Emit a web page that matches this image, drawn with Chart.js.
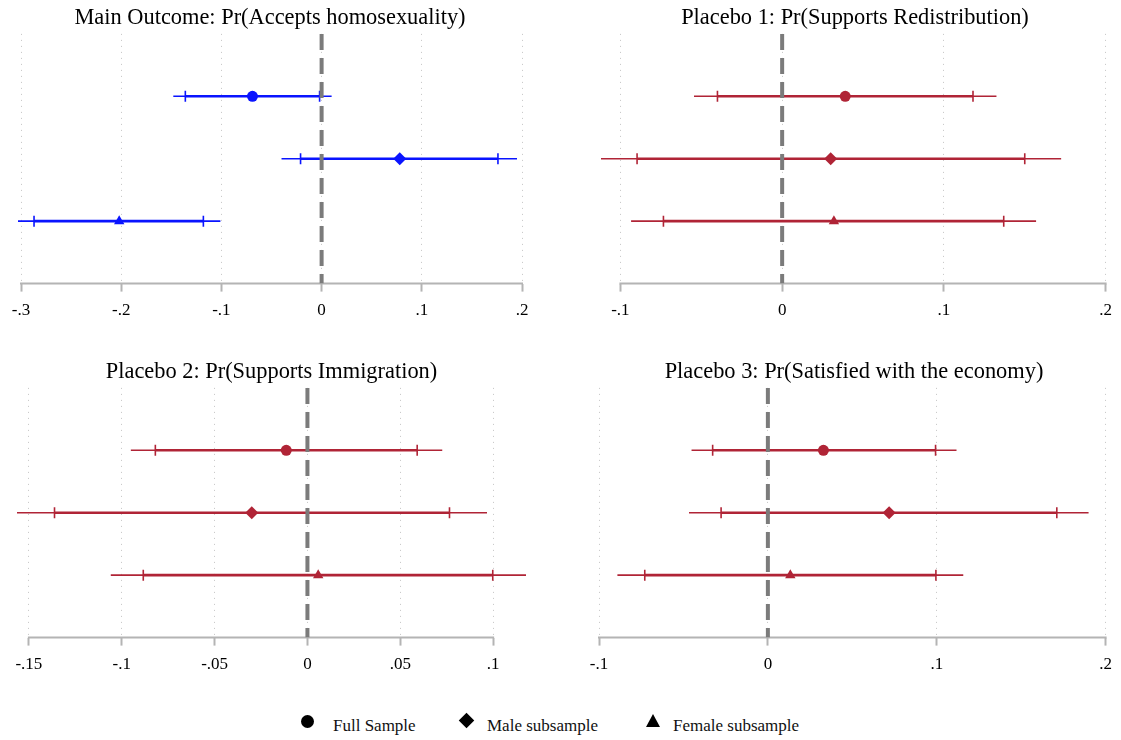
<!DOCTYPE html>
<html>
<head>
<meta charset="utf-8">
<script src="https://cdn.jsdelivr.net/npm/chart.js@4.4.1/dist/chart.umd.min.js"></script>
<style>
	html, body { margin: 0; padding: 0; background: #fff; }
	body { width: 1121px; height: 740px; position: relative; overflow: hidden; font-family: 'Liberation Serif', 'DejaVu Serif', serif; }
	.panel { position: absolute; width: 560px; height: 330px; }
	.legend-item { position: absolute; top: 712px; height: 24px; }
	.legend-text { position: absolute; top: 4px; font-size: 17px; white-space: nowrap; color: #111; }
	.mk { position: absolute; background: #000; }
</style>
</head>
<body>
<div class="panel" style="left:0;top:0"><canvas id="p0"></canvas></div>
<div class="panel" style="left:560px;top:0;width:561px"><canvas id="p1"></canvas></div>
<div class="panel" style="left:0;top:354px"><canvas id="p2"></canvas></div>
<div class="panel" style="left:560px;top:354px;width:561px"><canvas id="p3"></canvas></div>
<div id="legend"></div>
<script>
// rows, top to bottom
const rowLabels = ['Full Sample', 'Male subsample', 'Female subsample'];

// Main outcome: Pr(Accepts homosexuality)
const mainEst = [-0.069, 0.078, -0.202];
const mainLo95 = [-0.148, -0.040, -0.303];
const mainHi95 = [0.010, 0.195, -0.101];
const mainLo90 = [-0.136, -0.021, -0.287];
const mainHi90 = [-0.002, 0.176, -0.118];
const mainTicks = [-0.3, -0.2, -0.1, 0, 0.1, 0.2];

// Placebo 1: Pr(Supports Redistribution)
const redistEst = [0.039, 0.030, 0.032];
const redistLo95 = [-0.0545, -0.112, -0.0934];
const redistHi95 = [0.1325, 0.1725, 0.157];
const redistLo90 = [-0.040, -0.0897, -0.0734];
const redistHi90 = [0.118, 0.150, 0.137];
const redistTicks = [-0.1, 0, 0.1, 0.2];

// Placebo 2: Pr(Supports Immigration)
const immigEst = [-0.0114, -0.030, 0.0058];
const immigLo95 = [-0.0951, -0.1564, -0.1059];
const immigHi95 = [0.0726, 0.0967, 0.1177];
const immigLo90 = [-0.0819, -0.1362, -0.0884];
const immigHi90 = [0.0591, 0.0765, 0.0998];
const immigTicks = [-0.15, -0.1, -0.05, 0, 0.05, 0.1];

// Placebo 3: Pr(Satisfied with the economy)
const econEst = [0.0329, 0.0718, 0.0133];
const econLo95 = [-0.0452, -0.0467, -0.0891];
const econHi95 = [0.1117, 0.1899, 0.1157];
const econLo90 = [-0.0327, -0.0277, -0.0729];
const econHi90 = [0.0993, 0.1711, 0.0995];
const econTicks = [-0.1, 0, 0.1, 0.2];

const BLUE = 'rgb(10, 20, 255)';
const RED = 'rgb(176, 36, 54)';
const FONT = "'Liberation Serif', 'DejaVu Serif', serif";
const markers = ['circle', 'rectRot', 'triangle'];
const markerSize = [5.5, 6.5, 6];

const panels = [
	{ id: 'p0', title: 'Main Outcome: Pr(Accepts homosexuality)', est: mainEst, lo95: mainLo95, hi95: mainHi95, lo90: mainLo90, hi90: mainHi90, ticks: mainTicks, color: BLUE, pad: { left: 18, right: 38 } },
	{ id: 'p1', title: 'Placebo 1: Pr(Supports Redistribution)', est: redistEst, lo95: redistLo95, hi95: redistHi95, lo90: redistLo90, hi90: redistHi90, ticks: redistTicks, color: RED, pad: { left: 41, right: 12 } },
	{ id: 'p2', title: 'Placebo 2: Pr(Supports Immigration)', est: immigEst, lo95: immigLo95, hi95: immigHi95, lo90: immigLo90, hi90: immigHi90, ticks: immigTicks, color: RED, pad: { left: 17, right: 34 } },
	{ id: 'p3', title: 'Placebo 3: Pr(Satisfied with the economy)', est: econEst, lo95: econLo95, hi95: econHi95, lo90: econLo90, hi90: econHi90, ticks: econTicks, color: RED, pad: { left: 39, right: 12 } }
];

// stata-style labels: -.3, .05, 0
function fmt(v) {
	if (Math.abs(v) < 1e-9) return '0';
	let s = String(+v.toFixed(4));
	return s.replace(/^(-?)0\./, '$1.');
}

// solid axis line running only between the first and last tick
const axisLine = {
	id: 'axisLine',
	beforeDatasetsDraw(chart) {
		const x = chart.scales.x;
		const t = chart.options.tickValues;
		const ctx = chart.ctx;
		ctx.save();
		ctx.strokeStyle = '#b4b4b4';
		ctx.lineWidth = 2;
		ctx.beginPath();
		ctx.moveTo(x.getPixelForValue(t[0]) - 1, chart.chartArea.bottom);
		ctx.lineTo(x.getPixelForValue(t[t.length - 1]) + 1, chart.chartArea.bottom);
		ctx.stroke();
		ctx.restore();
	}
};

panels.forEach(p => {
	const datasets = [];
	// point estimates
	p.est.forEach((v, i) => {
		datasets.push({
			data: [{ x: v, y: i + 1 }],
			pointStyle: markers[i],
			pointRadius: markerSize[i],
			backgroundColor: p.color,
			borderColor: p.color,
			pointBorderWidth: 0,
			showLine: false
		});
	});
	// reference line at zero
	datasets.push({
		data: [{ x: 0, y: 0 }, { x: 0, y: 4 }],
		showLine: true,
		borderColor: '#7b7b7b',
		borderWidth: 4,
		borderDash: [16, 8],
		pointRadius: 0
	});
	// 90% intervals with end ticks
	p.lo90.forEach((v, i) => {
		datasets.push({
			data: [{ x: v, y: i + 1 }, { x: p.hi90[i], y: i + 1 }],
			showLine: true,
			borderColor: p.color,
			borderWidth: 2.6,
			pointStyle: 'line',
			rotation: 90,
			pointRadius: 5.5,
			pointBorderWidth: 1.6,
			pointBorderColor: p.color
		});
	});
	// 95% intervals
	p.lo95.forEach((v, i) => {
		datasets.push({
			data: [{ x: v, y: i + 1 }, { x: p.hi95[i], y: i + 1 }],
			showLine: true,
			borderColor: p.color,
			borderWidth: 1.6,
			pointRadius: 0
		});
	});

	const xmin = Math.min(p.ticks[0], ...p.lo95);
	const xmax = Math.max(p.ticks[p.ticks.length - 1], ...p.hi95);

	new Chart(document.getElementById(p.id), {
		type: 'scatter',
		data: { datasets },
		plugins: [axisLine],
		options: {
			tickValues: p.ticks,
			responsive: true,
			maintainAspectRatio: false,
			animation: false,
			events: [],
			layout: {
				padding: { left: p.pad.left, right: p.pad.right, top: 0, bottom: 0 }
			},
			plugins: {
				legend: { display: false },
				tooltip: { enabled: false },
				title: {
					display: true,
					text: p.title,
					color: '#000',
					font: { family: FONT, size: 22.4, weight: 'normal', lineHeight: 1.2 },
					padding: { top: 5, bottom: 2 }
				}
			},
			scales: {
				x: {
					type: 'linear',
					min: xmin,
					max: xmax,
					afterBuildTicks: axis => {
						axis.ticks = p.ticks.map(v => ({ value: v }));
					},
					grid: {
						color: '#c4c4c4',
						lineWidth: 1,
						drawTicks: true,
						tickLength: 8,
						tickColor: '#b4b4b4',
						tickWidth: 2,
						tickBorderDash: []
					},
					border: { display: false, dash: [1, 5] },
					ticks: {
						color: '#000',
						padding: 9,
						maxRotation: 0,
						autoSkip: false,
						font: { family: FONT, size: 17, lineHeight: 1.2 },
						callback: v => fmt(v)
					}
				},
				y: {
					type: 'linear',
					display: false,
					reverse: true,
					min: 0,
					max: 4
				}
			}
		}
	});
});

// shared legend under the panels
const legendPos = [{ mk: 307, tx: 333 }, { mk: 466, tx: 487 }, { mk: 653, tx: 673 }];
const legend = document.getElementById('legend');
rowLabels.forEach((label, i) => {
	const item = document.createElement('div');
	item.className = 'legend-item';
	item.style.left = '0px';
	const mk = document.createElement('div');
	mk.className = 'mk';
	if (i === 0) {
		Object.assign(mk.style, { width: '13px', height: '13px', borderRadius: '50%', left: (legendPos[i].mk - 6.5) + 'px', top: '3px' });
	} else if (i === 1) {
		Object.assign(mk.style, { width: '11px', height: '11px', transform: 'rotate(45deg)', left: (legendPos[i].mk - 5.5) + 'px', top: '3px' });
	} else {
		Object.assign(mk.style, { width: '0', height: '0', background: 'none', borderLeft: '7.5px solid transparent', borderRight: '7.5px solid transparent', borderBottom: '13px solid #000', left: (legendPos[i].mk - 7.5) + 'px', top: '2px' });
	}
	const tx = document.createElement('div');
	tx.className = 'legend-text';
	tx.style.left = legendPos[i].tx + 'px';
	tx.textContent = label;
	item.appendChild(mk);
	item.appendChild(tx);
	legend.appendChild(item);
});
</script>
</body>
</html>
